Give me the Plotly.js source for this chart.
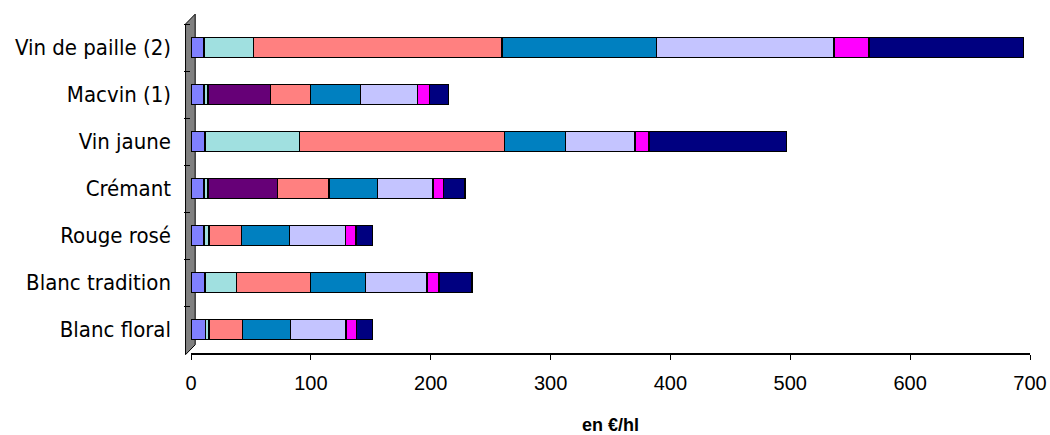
<!DOCTYPE html>
<html>
<head>
<meta charset="utf-8">
<script src="https://cdn.plot.ly/plotly-3.0.1.min.js"></script>
<style>html,body{margin:0;padding:0;background:#fff;}#chart{width:1050px;height:435px;}</style>
</head>
<body>
<div id="chart"></div>
<script>
const categories = ['Vin de paille (2)', 'Macvin (1)', 'Vin jaune', 'Crémant', 'Rouge rosé', 'Blanc tradition', 'Blanc floral'];
const serie1 = [11, 11, 11.5, 11, 11, 11.5, 12];
const serie2 = [41, 3, 79, 3, 4, 26.5, 3];
const serie3 = [null, 52.5, null, 58, null, null, null];
const serie4 = [207.5, 33, 171, 43, 27, 61.5, 28];
const serie5 = [129, 42, 51, 40.5, 40, 46, 40];
const serie6 = [148, 47.5, 58, 46.5, 47, 51.5, 46.5];
const serie7 = [29, 10, 11.5, 8.5, 8.5, 10, 8.5];
const serie8 = [129, 16, 115, 18, 14, 27.5, 13.5];
const seriesNames = ['Série 1', 'Série 2', 'Série 3', 'Série 4', 'Série 5', 'Série 6', 'Série 7', 'Série 8'];
const xTicks = [0, 100, 200, 300, 400, 500, 600, 700];

const allSeries = [serie1, serie2, serie3, serie4, serie5, serie6, serie7, serie8];
const colors = ['#8080FF', '#A0E0E0', '#660077', '#FF8080', '#0080C0', '#C4C4FF', '#FF00FF', '#000080'];

const traces = allSeries.map((vals, i) => ({
  type: 'bar',
  orientation: 'h',
  name: seriesNames[i],
  y: categories,
  x: vals,
  marker: {color: colors[i], line: {color: '#000000', width: 1.5}},
  hoverinfo: 'x+name'
}));

const layout = {
  width: 1050,
  height: 435,
  barmode: 'stack',
  bargap: 0.58,
  showlegend: false,
  paper_bgcolor: '#ffffff',
  plot_bgcolor: '#ffffff',
  margin: {l: 191, r: 20, t: 24, b: 82},
  xaxis: {
    range: [0, 700],
    tickvals: xTicks,
    ticktext: xTicks.map(String),
    showgrid: false,
    zeroline: false,
    showline: true,
    linecolor: '#000000',
    linewidth: 1.5,
    ticks: 'outside',
    ticklen: 5,
    tickcolor: '#000000',
    ticklabelstandoff: 6,
    tickfont: {family: 'Liberation Sans Narrow, Liberation Sans, Arial', size: 20, color: '#000000'},
    title: {text: '<b>en €/hl</b>', standoff: 28, font: {family: 'Liberation Sans Narrow, Liberation Sans, Arial', size: 18, color: '#000000'}}
  },
  yaxis: {
    type: 'category',
    categoryorder: 'array',
    categoryarray: categories,
    autorange: 'reversed',
    tickson: 'boundaries',
    ticks: 'outside',
    ticklen: 6,
    tickcolor: '#000000',
    showline: false,
    showgrid: false,
    zeroline: false,
    ticklabelstandoff: 19,
    tickfont: {family: 'DejaVu Sans Condensed, DejaVu Sans, Tahoma', size: 22, color: '#000000'}
  },
  shapes: [
    {
      type: 'path', xref: 'paper', yref: 'paper',
      path: 'M -0.0065,-0.005 L -0.0065,1.0 L 0.005,1.03 L 0.005,0.025 Z',
      fillcolor: '#808080', line: {color: '#000000', width: 1}, layer: 'below'
    }
  ]
};

Plotly.newPlot('chart', traces, layout, {displayModeBar: false, staticPlot: true});
</script>
</body>
</html>
